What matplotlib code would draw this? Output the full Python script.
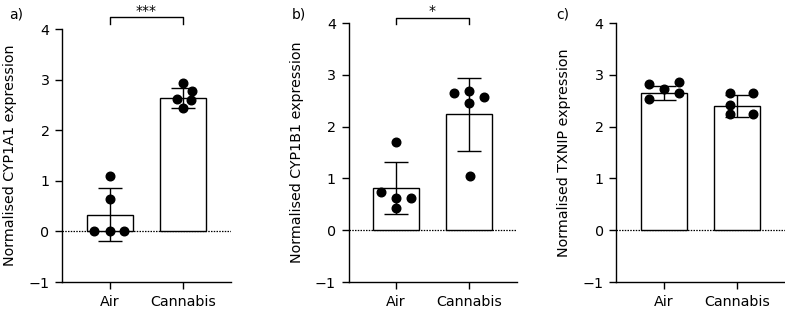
import numpy as np
import matplotlib.pyplot as plt

plt.rcParams['font.family'] = ['DejaVu Sans']

groups = ['Air', 'Cannabis']

# panel a) CYP1A1
a_means = [0.33, 2.64]
a_sd = [0.52, 0.20]
a_air_pts = [1.10, 0.65, 0.0, 0.0, 0.0]
a_can_pts = [2.94, 2.78, 2.62, 2.59, 2.45]

# panel b) CYP1B1
b_means = [0.81, 2.24]
b_sd = [0.50, 0.70]
b_air_pts = [1.70, 0.73, 0.63, 0.63, 0.42]
b_can_pts = [2.66, 2.68, 2.57, 2.45, 1.04]

# panel c) TXNIP
c_means = [2.65, 2.40]
c_sd = [0.13, 0.21]
c_air_pts = [2.83, 2.87, 2.72, 2.66, 2.54]
c_can_pts = [2.66, 2.66, 2.41, 2.25, 2.25]

# horizontal offsets of the dots (category units)
a_air_dx = [0, 0, -0.21, 0, 0.19]
a_can_dx = [0, 0.12, -0.08, 0.11, 0]
b_air_dx = [0, -0.21, 0, 0.21, 0]
b_can_dx = [-0.21, 0, 0.21, 0, 0.01]
c_air_dx = [-0.2, 0.21, 0, 0.21, -0.2]
c_can_dx = [-0.1, 0.21, -0.1, -0.1, 0.21]

panels = [
    ('a)', 'Normalised CYP1A1 expression', a_means, a_sd, a_air_pts, a_can_pts, a_air_dx, a_can_dx, '***'),
    ('b)', 'Normalised CYP1B1 expression', b_means, b_sd, b_air_pts, b_can_pts, b_air_dx, b_can_dx, '*'),
    ('c)', 'Normalised TXNIP expression', c_means, c_sd, c_air_pts, c_can_pts, c_air_dx, c_can_dx, None),
]

# axes rectangles [left, bottom, width, height] in figure fraction
rects = [
    [0.079, 0.099, 0.215, 0.808],
    [0.444, 0.099, 0.214, 0.827],
    [0.785, 0.099, 0.215, 0.827],
]
label_pos = [(0.012, 0.955), (0.372, 0.955), (0.709, 0.955)]

fig = plt.figure(figsize=(7.85, 3.13), dpi=100)

for (tag, ylab, means, sd, air_pts, can_pts, air_dx, can_dx, star), rect, lp in zip(panels, rects, label_pos):
    ax = fig.add_axes(rect)
    x = np.arange(len(groups))
    ax.bar(x, means, width=0.63, color='white', edgecolor='black', linewidth=1.0, zorder=2)
    ax.errorbar(x, means, yerr=sd, fmt='none', ecolor='black', elinewidth=1.0,
                capsize=8.5, capthick=1.0, zorder=3)
    for xi, pts, dx in [(0, air_pts, air_dx), (1, can_pts, can_dx)]:
        ax.plot(xi + np.array(dx), pts, 'o', color='black', markersize=6.2,
                linestyle='none', zorder=4, clip_on=False)
    ax.axhline(0, color='black', linestyle=(0, (1.2, 1.0)), linewidth=0.9, zorder=1)

    ax.set_xlim(-0.65, 1.65)
    ax.set_ylim(-1, 4)
    ax.set_yticks([-1, 0, 1, 2, 3, 4])
    ax.set_yticklabels(['\u22121', '0', '1', '2', '3', '4'])
    ax.set_xticks(x)
    ax.set_xticklabels(groups)
    ax.spines['top'].set_visible(False)
    ax.spines['right'].set_visible(False)
    ax.spines['left'].set_linewidth(1.0)
    ax.spines['bottom'].set_linewidth(1.0)
    ax.tick_params(axis='both', length=5, width=1.0, labelsize=10.3, pad=4)
    ax.set_ylabel(ylab, fontsize=10.3, labelpad=8)

    fig.text(lp[0], lp[1], tag, fontsize=10, ha='left', va='center')

    if star is not None:
        yb = 4.23 if tag == 'a)' else 4.1
        top = 4.0 + 29 / 50.5 if tag == 'a)' else 4.0 + 23.3 / 51.5
        ax.plot([0, 0, 1, 1], [yb - 0.12, yb, yb, yb - 0.12], color='black',
                linewidth=1.0, clip_on=False)
        ax.text(0.5, top - 0.08, star, ha='center', va='top', fontsize=10)

fig.savefig('out.png', dpi=100)
